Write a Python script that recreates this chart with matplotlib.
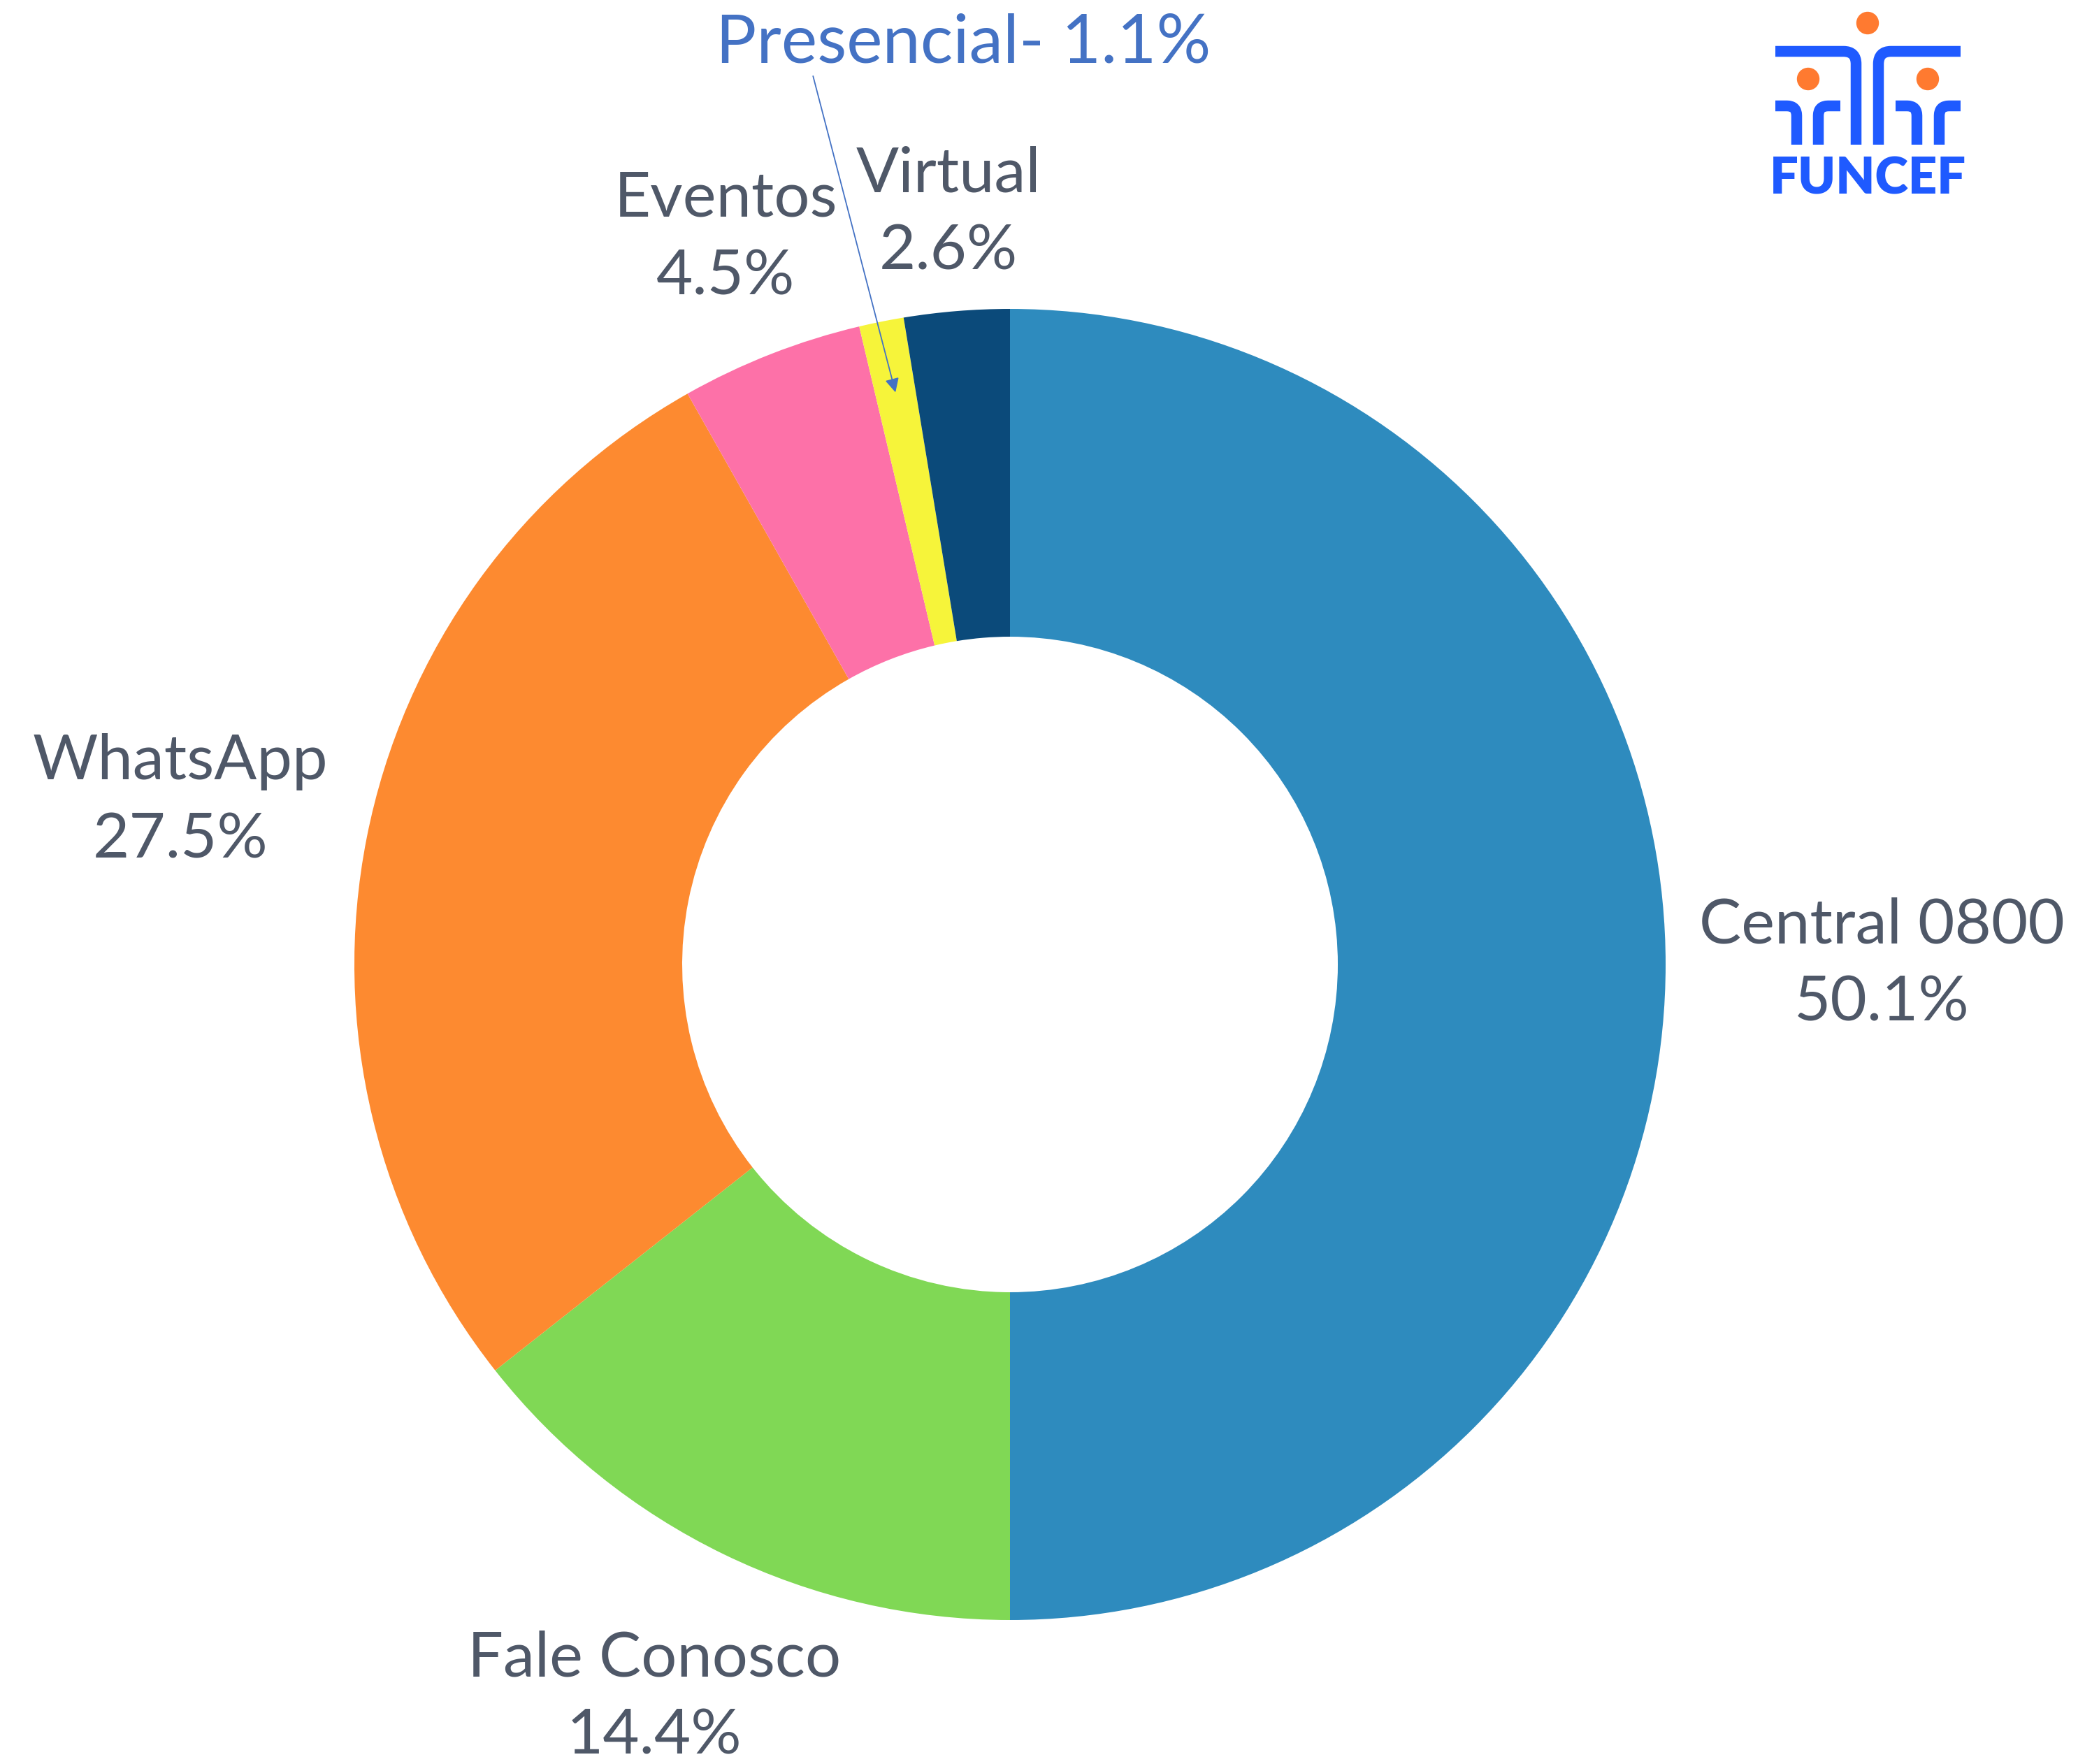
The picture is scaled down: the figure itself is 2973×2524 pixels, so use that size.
import numpy as np
import matplotlib.pyplot as plt
from matplotlib.path import Path
from matplotlib.patches import PathPatch, Circle

# dados do gráfico
canais = ["Central 0800", "Fale Conosco", "WhatsApp", "Eventos", "Presencial", "Virtual"]
percentuais = [50.1, 14.4, 27.5, 4.5, 1.1, 2.6]
cores = ["#2e8bbe", "#80d855", "#fd8a30", "#fd71a8", "#f6f43a", "#0b4a7a"]
dist_rotulo = [1.33, 1.243, 1.29, 1.19, None, 1.15]

W, H = 2973, 2524
fig = plt.figure(figsize=(W / 100, H / 100), dpi=100)

# eixo do donut: 1 unidade = raio externo
cx, cy, R = 1445, 1380, 938
ax = fig.add_axes([0, 0, 1, 1])
wedges, _ = ax.pie(percentuais, colors=cores, startangle=90, counterclock=False,
                   radius=1, wedgeprops=dict(width=0.5, linewidth=0))
ax.set_aspect('equal')
ax.set_xlim(-cx / R, (W - cx) / R)
ax.set_ylim(-(H - cy) / R, cy / R)
ax.axis('off')

cor_texto = "#4f5868"
for w, nome, pct, d in zip(wedges, canais, percentuais, dist_rotulo):
    ang = np.deg2rad((w.theta1 + w.theta2) / 2)
    if d is None:
        # Presencial: rótulo com seta
        ax.annotate(f"{nome}- {pct}%", xy=(0.89 * np.cos(ang), 0.89 * np.sin(ang)),
                    xytext=(-0.0707, 1.405), ha='center', va='center',
                    fontsize=70, family='Lato', color="#4472c4",
                    arrowprops=dict(arrowstyle='-|>', color="#4472c4", lw=1.3,
                                    mutation_scale=30, relpos=(0.19, 0.15),
                                    shrinkA=0, shrinkB=0))
        continue
    ax.text(d * np.cos(ang), d * np.sin(ang), f"{nome}\n{pct}%", ha='center', va='center',
            fontsize=65, family='Lato', color=cor_texto, linespacing=1.45)

# logo FUNCEF (em pixels)
lg = fig.add_axes([0, 0, 1, 1])
lg.set_xlim(0, W)
lg.set_ylim(H, 0)
lg.axis('off')
azul = "#1f5aff"
laranja = "#ff7a30"
lw_px = 15.5


def cotovelo(x0, y0, x1, y1, r):
    sx = np.sign(x1 - x0)
    verts = [(x0, y0), (x1 - sx * r, y0), (x1, y0), (x1, y0 + r), (x1, y1)]
    codes = [Path.MOVETO, Path.LINETO, Path.CURVE3, Path.CURVE3, Path.LINETO]
    lg.add_patch(PathPatch(Path(verts, codes), fill=False, edgecolor=azul,
                           lw=lw_px * 72 / 100, capstyle='butt', joinstyle='round'))


cotovelo(2540, 73.5, 2655.5, 207, 18)
cotovelo(2805, 73.5, 2687.5, 207, 18)
cotovelo(2540, 151.5, 2570.5, 207, 14)
cotovelo(2633, 151.5, 2601.5, 207, 14)
cotovelo(2712, 151.5, 2742.5, 207, 14)
cotovelo(2805, 151.5, 2774.5, 207, 14)
for x, y in [(2672, 33), (2587, 113), (2758, 113)]:
    lg.add_patch(Circle((x, y), 15.5, color=laranja))
lg.text(2672.5, 256, "FUNCEF", ha='center', va='center', fontsize=52,
        family='Lato', weight='heavy', color=azul)

fig.savefig("out.png", dpi=100, facecolor='white')
